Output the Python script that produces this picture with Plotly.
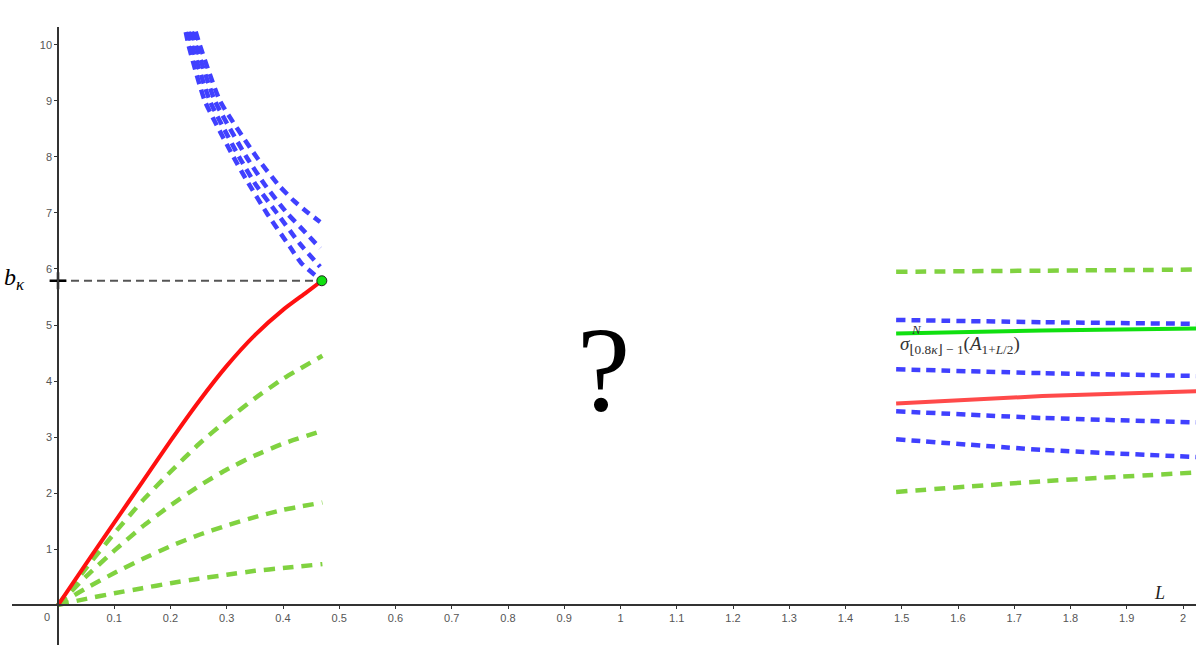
"""
plot.py
Sketch of b_kappa bounds vs L: small-L branch, large-L branch, unknown gap.
"""

import plotly.graph_objects as go

# ── Colours ──────────────────────────────────────────────────────────────────
COLOR_RED = "#FF1010"
COLOR_RED_SOFT = "#FF4A4A"
COLOR_BLUE = "#4040FF"
COLOR_GREEN_DASH = "#80D240"
COLOR_GREEN_SOLID = "#10E010"
COLOR_AXIS = "#333333"
COLOR_TICK = "#555555"

# ── Data: small-L branch ─────────────────────────────────────────────────────
L_LEFT = [0, 0.05, 0.1, 0.15, 0.2, 0.25, 0.3, 0.35, 0.4, 0.44, 0.469]
red_left = [0, 0.74, 1.47, 2.2, 2.93, 3.63, 4.27, 4.82, 5.27, 5.57, 5.79]

L_GREEN = [0, 0.05, 0.1, 0.15, 0.2, 0.25, 0.3, 0.35, 0.4, 0.47]
green_left_1 = [0, 0.66, 1.28, 1.86, 2.38, 2.87, 3.3, 3.69, 4.04, 4.45]
green_left_2 = [0, 0.51, 0.97, 1.4, 1.78, 2.12, 2.42, 2.67, 2.88, 3.11]
green_left_3 = [0, 0.3, 0.57, 0.82, 1.05, 1.25, 1.42, 1.57, 1.7, 1.83]
green_left_4 = [0, 0.11, 0.21, 0.3, 0.39, 0.47, 0.54, 0.61, 0.66, 0.73]

# blue curves above b_kappa (L, y pairs as separate lists)
blue_top_L_1 = [0.237, 0.252, 0.288, 0.353, 0.392, 0.418, 0.445, 0.466]
blue_top_y_1 = [10.5, 10.0, 9.0, 8.0, 7.5, 7.23, 7.0, 6.84]
blue_top_L_2 = [0.231, 0.245, 0.279, 0.335, 0.368, 0.407, 0.44, 0.466]
blue_top_y_2 = [10.5, 10.0, 9.0, 8.0, 7.5, 7.0, 6.65, 6.37]
blue_top_L_3 = [0.226, 0.238, 0.27, 0.322, 0.352, 0.389, 0.43, 0.466]
blue_top_y_3 = [10.5, 10.0, 9.0, 8.0, 7.5, 7.0, 6.45, 6.04]
blue_top_L_4 = [0.222, 0.232, 0.261, 0.312, 0.335, 0.371, 0.412, 0.433, 0.469]
blue_top_y_4 = [10.5, 10.0, 9.0, 8.0, 7.59, 7.0, 6.4, 6.1, 5.79]

B_KAPPA_L = 0.469
B_KAPPA = 5.79

# ── Data: large-L branch ─────────────────────────────────────────────────────
L_RIGHT = [1.49, 1.75, 2.03]
green_right_top = [5.95, 5.97, 5.99]
blue_right_1 = [5.09, 5.05, 5.02]
green_right_solid = [4.85, 4.9, 4.94]
blue_right_2 = [4.21, 4.14, 4.09]
red_right = [3.6, 3.73, 3.82]
blue_right_3 = [3.46, 3.34, 3.26]
blue_right_4 = [2.96, 2.77, 2.64]
green_right_bottom = [2.02, 2.21, 2.37]

# ── Axes ─────────────────────────────────────────────────────────────────────
X_TICKS = [round(0.1 * i, 1) for i in range(1, 21)]
X_TICK_TEXT = [f"{v:g}" for v in X_TICKS]
Y_TICKS = list(range(1, 11))

X_RANGE = [-0.0818, 2.0231]
Y_RANGE = [-0.714, 10.321]

SERIF = "Liberation Serif, DejaVu Serif, serif"


def _line(x, y, color, width=4.5, dash=None):
    return go.Scatter(
        x=x,
        y=y,
        mode="lines",
        line=dict(color=color, width=width, dash=dash, shape="spline", smoothing=0.5),
        hoverinfo="skip",
        showlegend=False,
    )


DASH_BLUE = "9px,6px"
DASH_GREEN = "11px,8px"

fig = go.Figure()

# small-L branch
for ys in (green_left_1, green_left_2, green_left_3, green_left_4):
    fig.add_trace(_line(L_GREEN, ys, COLOR_GREEN_DASH, dash=DASH_GREEN))
fig.add_trace(_line(L_LEFT, red_left, COLOR_RED, width=4))
for xs, ys in (
    (blue_top_L_1, blue_top_y_1),
    (blue_top_L_2, blue_top_y_2),
    (blue_top_L_3, blue_top_y_3),
    (blue_top_L_4, blue_top_y_4),
):
    fig.add_trace(_line(xs, ys, COLOR_BLUE, dash=DASH_BLUE))

# b_kappa marker line
fig.add_trace(
    go.Scatter(
        x=[0, B_KAPPA_L],
        y=[B_KAPPA, B_KAPPA],
        mode="lines",
        line=dict(color="#555555", width=2, dash="8px,5px"),
        hoverinfo="skip",
        showlegend=False,
    )
)
fig.add_trace(
    go.Scatter(
        x=[0],
        y=[B_KAPPA],
        mode="markers",
        marker=dict(symbol="cross-thin", size=12, line=dict(color="black", width=2.5)),
        hoverinfo="skip",
        showlegend=False,
    )
)
fig.add_trace(
    go.Scatter(
        x=[B_KAPPA_L],
        y=[B_KAPPA],
        mode="markers",
        marker=dict(size=10, color=COLOR_GREEN_SOLID, line=dict(color="#222222", width=1)),
        hoverinfo="skip",
        showlegend=False,
    )
)

# large-L branch
fig.add_trace(_line(L_RIGHT, green_right_top, COLOR_GREEN_DASH, dash=DASH_GREEN))
fig.add_trace(_line(L_RIGHT, blue_right_1, COLOR_BLUE, dash=DASH_BLUE))
fig.add_trace(_line(L_RIGHT, green_right_solid, COLOR_GREEN_SOLID, width=4))
fig.add_trace(_line(L_RIGHT, blue_right_2, COLOR_BLUE, dash=DASH_BLUE))
fig.add_trace(_line(L_RIGHT, red_right, COLOR_RED_SOFT, width=4))
fig.add_trace(_line(L_RIGHT, blue_right_3, COLOR_BLUE, dash=DASH_BLUE))
fig.add_trace(_line(L_RIGHT, blue_right_4, COLOR_BLUE, dash=DASH_BLUE))
fig.add_trace(_line(L_RIGHT, green_right_bottom, COLOR_GREEN_DASH, dash=DASH_GREEN))

# ── Text ─────────────────────────────────────────────────────────────────────
fig.add_annotation(
    x=0, y=0, text="0", showarrow=False, xanchor="right", yanchor="top",
    xshift=-6, yshift=-4, font=dict(size=11, color=COLOR_TICK, family="Liberation Sans, Arial"),
)
fig.add_annotation(
    x=0.969, y=4.2, text="?", showarrow=False,
    font=dict(size=120, color="black", family=SERIF),
)
fig.add_annotation(
    x=1.959, y=0.21, text="<i>L</i>", showarrow=False,
    font=dict(size=18, color="#222222", family=SERIF),
)
fig.add_annotation(
    x=0, y=B_KAPPA, xref="paper", text="<i>b<sub>κ</sub></i>", showarrow=False,
    xanchor="left", xshift=-10, yshift=2,
    font=dict(size=24, color="black", family=SERIF),
)
fig.add_annotation(
    x=1.49, y=4.64, text="<i>σ</i><sub>⌊0.8<i>κ</i>⌋ − 1</sub>(<i>A</i><sub>1+<i>L</i>/2</sub>)",
    showarrow=False, xanchor="left", xshift=2,
    font=dict(size=19, color="#333333", family=SERIF),
)
fig.add_annotation(
    x=1.49, y=4.92, text="<i>N</i>", showarrow=False, xanchor="left", xshift=13,
    font=dict(size=13, color="#333333", family=SERIF),
)

AXIS_COMMON = dict(
    showgrid=False,
    zeroline=False,
    showline=True,
    linecolor=COLOR_AXIS,
    linewidth=1.5,
    ticks="outside",
    ticklen=3,
    tickwidth=1,
    tickcolor=COLOR_AXIS,
    tickfont=dict(size=11, color=COLOR_TICK, family="Liberation Sans, Arial"),
    fixedrange=True,
    automargin=False,
)

fig.update_layout(
    width=1196,
    height=656,
    paper_bgcolor="white",
    plot_bgcolor="white",
    margin=dict(l=12, r=0, t=27, b=11),
    showlegend=False,
    xaxis=dict(
        **AXIS_COMMON,
        range=X_RANGE,
        tickvals=X_TICKS,
        ticktext=X_TICK_TEXT,
        anchor="free",
        position=(0 - Y_RANGE[0]) / (Y_RANGE[1] - Y_RANGE[0]),
    ),
    yaxis=dict(
        **AXIS_COMMON,
        range=Y_RANGE,
        tickvals=Y_TICKS,
        anchor="free",
        position=(0 - X_RANGE[0]) / (X_RANGE[1] - X_RANGE[0]),
    ),
)

# page body margin would push the 1196x656 figure off the window
fig.write_html(
    "out.html",
    config={"displayModeBar": False},
    post_script="document.body.style.margin = '0';",
)
